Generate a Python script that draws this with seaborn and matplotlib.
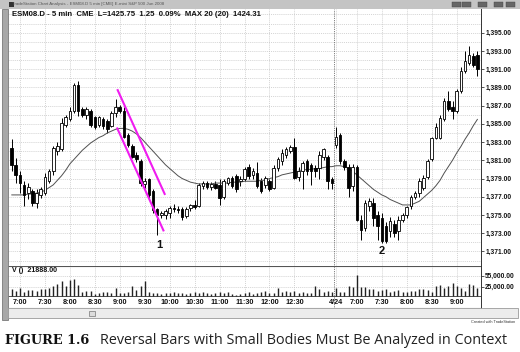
import numpy as np
import pandas as pd
import matplotlib
matplotlib.use("Agg")
import matplotlib.pyplot as plt
from matplotlib.patches import Rectangle
import seaborn as sns

# ---------------- data ----------------
day1_open = [1382.4,1380.5,1379.4,1378.3,1377.4,1377.6,1376.3,1377.2,1377.4,1378.7,
             1379.8,1382.0,1382.2,1384.9,1385.5,1386.4,1389.3,1386.6,1386.0,1386.4,
             1385.7,1384.9,1385.5,1385.3,1384.8,1386.2,1386.8,1386.4,1383.8,1382.6,
             1381.6,1380.9,1378.4,1378.9,1377.6,1375.6,1375.0,1375.0,1375.2,1375.8,
             1375.6,1375.6,1374.9,1375.8,1376.1,1376.0,1378.2,1378.5,1378.1,1378.4,
             1378.3,1377.0,1378.5,1379.1,1379.3,1378.7,1379.0,1380.3,1379.4,1379.6,
             1378.7,1378.3,1378.7,1378.0,1380.2,1380.9,1381.6,1382.0,1382.5,1379.2,
             1379.8,1380.9,1380.5,1380.2,1380.2,1381.4,1381.4,1378.9]
day1_high = [1383.3,1381.3,1379.8,1378.7,1378.5,1377.8,1377.8,1378.1,1379.6,1380.0,
             1382.6,1383.0,1385.6,1386.0,1386.8,1389.5,1389.7,1386.9,1386.8,1386.6,
             1385.9,1385.9,1385.7,1385.5,1386.4,1387.7,1387.1,1386.8,1384.0,1382.8,
             1381.9,1381.1,1379.1,1379.1,1377.8,1375.8,1375.4,1375.6,1376.0,1376.2,
             1376.0,1375.9,1375.9,1376.2,1376.6,1378.5,1378.7,1378.7,1378.6,1378.7,
             1378.9,1378.9,1379.2,1379.3,1379.5,1379.3,1380.3,1380.6,1380.2,1380.8,
             1379.1,1379.3,1379.0,1380.5,1381.4,1382.2,1382.5,1382.7,1383.5,1380.3,
             1380.9,1381.1,1380.7,1380.5,1382.0,1382.4,1381.6,1379.2]
day1_low = [1379.8,1378.5,1377.4,1376.0,1376.7,1376.0,1375.8,1376.9,1377.2,1378.5,
            1379.4,1381.6,1382.0,1384.6,1385.3,1386.2,1385.9,1385.7,1385.5,1384.6,
            1384.4,1384.6,1384.4,1384.0,1384.6,1385.8,1386.2,1383.5,1382.5,1381.2,
            1380.8,1378.2,1378.0,1376.9,1375.2,1372.8,1374.7,1374.6,1374.7,1375.3,
            1375.2,1374.5,1374.7,1375.4,1375.6,1375.9,1377.9,1377.9,1377.7,1377.8,
            1376.1,1376.8,1378.3,1378.0,1377.5,1378.2,1378.7,1379.0,1379.0,1378.0,
            1377.4,1378.0,1377.6,1377.8,1379.8,1380.5,1381.3,1381.8,1378.9,1378.7,
            1377.9,1379.4,1378.3,1379.2,1379.0,1381.0,1377.8,1377.8]
day1_close = [1380.5,1379.4,1378.5,1377.2,1378.1,1376.3,1377.4,1377.8,1379.2,1379.8,
              1382.4,1382.6,1385.1,1385.7,1386.4,1389.3,1386.4,1386.0,1386.6,1384.9,
              1384.7,1385.7,1384.8,1384.4,1386.2,1386.8,1386.4,1383.6,1382.7,1381.4,
              1381.1,1378.5,1378.7,1377.2,1375.5,1375.0,1375.2,1375.4,1375.8,1375.6,
              1375.5,1374.8,1375.7,1376.1,1375.9,1378.3,1378.5,1378.1,1378.4,1378.0,
              1376.9,1378.7,1379.1,1378.2,1377.8,1379.0,1380.0,1379.3,1379.8,1378.2,
              1377.6,1379.1,1377.8,1380.2,1381.1,1381.8,1382.2,1382.5,1379.1,1379.8,
              1380.7,1379.8,1379.8,1379.8,1381.6,1382.2,1378.7,1378.5]

day2_open = [1382.7,1383.8,1380.9,1380.3,1378.2,1380.3,1374.5,1373.6,1376.0,1376.3,
             1375.0,1374.7,1373.8,1373.2,1374.0,1373.2,1374.5,1375.0,1376.0,1377.0,
             1377.4,1378.0,1379.2,1381.1,1383.5,1383.5,1385.5,1387.5,1386.9,1386.4,
             1388.6,1390.8,1391.7,1392.4,1392.6]
day2_high = [1384.6,1384.0,1381.1,1380.6,1380.6,1380.5,1375.0,1376.6,1376.9,1376.9,
             1375.4,1375.2,1374.2,1374.8,1374.4,1374.9,1375.2,1376.0,1377.2,1377.6,
             1379.1,1379.4,1381.1,1383.6,1385.1,1386.0,1387.8,1388.6,1387.5,1388.8,
             1391.2,1393.0,1393.5,1392.8,1393.0]
day2_low = [1382.3,1380.6,1379.9,1377.0,1377.6,1374.3,1372.3,1373.2,1375.4,1373.8,
            1372.3,1371.9,1371.9,1372.6,1372.6,1372.3,1374.2,1374.7,1375.7,1376.8,
            1377.0,1377.7,1378.9,1380.9,1383.3,1383.3,1385.3,1386.4,1385.5,1386.2,
            1388.4,1390.6,1391.5,1391.2,1390.2]
day2_close = [1383.6,1380.9,1380.3,1378.0,1380.3,1374.5,1373.4,1376.3,1376.5,1374.7,
              1373.8,1372.1,1372.1,1374.3,1373.0,1374.5,1375.0,1375.9,1377.0,1377.4,
              1378.7,1379.1,1380.9,1383.5,1384.7,1385.6,1387.5,1386.6,1386.4,1388.6,
              1390.8,1391.9,1392.6,1391.5,1391.0]

ma20_day1 = [1377.2,1377.2,1377.2,1377.2,1377.3,1377.3,1377.4,1377.5,1377.7,1378.0,
             1378.3,1378.8,1379.3,1379.9,1380.6,1381.1,1381.6,1382.1,1382.5,1382.9,
             1383.2,1383.5,1383.7,1384.0,1384.2,1384.4,1384.5,1384.5,1384.4,1384.2,
             1383.9,1383.5,1383.0,1382.5,1382.0,1381.5,1381.0,1380.5,1380.1,1379.7,
             1379.3,1379.0,1378.8,1378.6,1378.5,1378.4,1378.4,1378.4,1378.4,1378.5,
             1378.5,1378.5,1378.5,1378.6,1378.6,1378.6,1378.7,1378.7,1378.7,1378.7,
             1378.8,1378.8,1379.0,1379.1,1379.2,1379.4,1379.5,1379.6,1379.7,1379.8,
             1379.9,1380.0,1380.0,1380.1,1380.1,1380.2,1380.3,1380.3]
ma20_day2 = [1380.4,1380.4,1380.3,1380.1,1379.8,1379.4,1379.0,1378.6,1378.2,1377.8,
             1377.5,1377.2,1377.0,1376.7,1376.5,1376.3,1376.1,1376.1,1376.1,1376.3,
             1376.5,1376.9,1377.3,1377.7,1378.2,1378.8,1379.6,1380.3,1381.0,1381.8,
             1382.5,1383.3,1384.0,1384.8,1385.5]

volume_day1 = [20000,14000,22000,12000,16000,17000,15000,19000,18000,21000,
               28000,33000,40000,26000,44000,46000,30000,12000,14000,15000,
               6000,9000,10000,12000,9000,22000,8000,9000,10000,26000,
               16000,28000,42000,10000,7000,9000,6000,8000,9000,10000,
               7000,8000,6000,9000,12000,8000,10000,7000,6000,9000,
               11000,8000,12000,5000,4000,6000,7000,10000,5000,8000,
               12000,15000,9000,8000,22000,10000,14000,11000,13000,9000,
               10000,7000,9000,27000,20000,12000,14000,11000]
volume_day2 = [22000,12000,10000,26000,24000,57000,25000,24000,18000,20000,
               14000,16000,18000,12000,14000,16000,10000,12000,15000,13000,
               18000,20000,17000,12000,26000,30000,22000,26000,36000,28000,
               22000,14000,33000,29000,21888]

tick_labels = ["7:00","7:30","8:00","8:30","9:00","9:30","10:00","10:30","11:00",
               "11:30","12:00","12:30","4/24","7:00","7:30","8:00","8:30","9:00"]
tick_bars = [2,8,14,20,26,32,38,44,50,56,62,68,78,83,89,95,101,107]
price_ticks = [1395,1393,1391,1389,1387,1385,1383,1381,1379,1377,1375,1373,1371]
volume_ticks = [55000,25000]

channel_upper = [(25.4,1388.8),(36.9,1377.2)]
channel_lower = [(25.3,1384.6),(36.6,1373.2)]
swing_labels = [("1",35.4,1371.7),("2",89.0,1371.0)]

header_text = "ESM08.D - 5 min  CME  L=1425.75  1.25  0.09%  MAX 20 (20)  1424.31"
window_title = "TradeStation Chart Analysis - ESM08.D 5 min [CME] E-mini S&P 500 Jun 2008"
caption_label = "FIGURE 1.6"
caption_text = "Reversal Bars with Small Bodies Must Be Analyzed in Context"

# -------------- build frame --------------
df = pd.DataFrame({
    "open": day1_open + day2_open,
    "high": day1_high + day2_high,
    "low": day1_low + day2_low,
    "close": day1_close + day2_close,
    "ma": ma20_day1 + ma20_day2,
    "volume": volume_day1 + volume_day2,
})
df["idx"] = np.arange(len(df))
day_break = len(day1_open)

sns.set_theme(style="white")
plt.rcParams["font.family"] = ["Liberation Sans", "DejaVu Sans"]

W, H = 520, 352
fig = plt.figure(figsize=(W/100, H/100), dpi=100)
fig.patch.set_facecolor("white")

def rect(x0, y0, x1, y1):
    return [x0/W, 1 - y1/H, (x1-x0)/W, (y1-y0)/H]

def fx(x): return x/W
def fy(y): return 1 - y/H

# window chrome
fig.add_artist(Rectangle((0, fy(9)), 1, 9/H, transform=fig.transFigure,
                         facecolor="#c4c4c4", edgecolor="none"))
fig.text(fx(12), fy(4.5), window_title, fontsize=3.2, color="#555555", va="center")
fig.add_artist(Rectangle((fx(9), fy(6.5)), 5/W, 5/H, transform=fig.transFigure,
                         facecolor="#333333", edgecolor="none"))
for bx in [452, 462, 478, 494, 506]:
    fig.add_artist(Rectangle((fx(bx), fy(7)), 9/W, 5/H, transform=fig.transFigure,
                             facecolor="#666666", edgecolor="#444444", lw=0.3))
fig.add_artist(Rectangle((fx(2), fy(320)), 6/W, 311/H, transform=fig.transFigure,
                         facecolor="#a8a8a8", edgecolor="#7a7a7a", lw=0.6))
# scroll bar region
fig.add_artist(Rectangle((fx(8), fy(318)), 510/W, 10/H, transform=fig.transFigure,
                         facecolor="#ececec", edgecolor="#9a9a9a", lw=0.6))
fig.add_artist(Rectangle((fx(89), fy(316)), 6/W, 5/H, transform=fig.transFigure,
                         facecolor="#dcdcdc", edgecolor="#777777", lw=0.5))
fig.text(fx(515), fy(322), "Created with TradeStation", fontsize=2.8, color="#333333",
         ha="right", va="center")

# -------------- price panel --------------
xmin, xmax = -0.87, 112.85
ax = fig.add_axes(rect(8, 9, 481, 266))
ax.set_xlim(xmin, xmax)
ax.set_ylim(1369.4, 1397.6)
ax.set_facecolor("white")

for p in np.arange(1370, 1398, 1):
    ax.axhline(p, color="#c4c4c4", lw=0.5, ls=(0, (1.5, 1.5)), zorder=0)
for t in tick_bars:
    ax.axvline(t, color="#c4c4c4", lw=0.5, ls=(0, (1.5, 1.5)), zorder=0)
ax.axvline(day_break - 0.5, color="#555555", lw=0.6, ls=(0, (1, 1.2)), zorder=1)

ax.vlines(df["idx"], df["low"], df["high"], color="black", lw=0.7, zorder=2)
up = df["close"] >= df["open"]
body_h = (df["close"] - df["open"]).abs().clip(lower=0.08)
body_b = df[["open", "close"]].min(axis=1)
ax.bar(df["idx"][up], body_h[up], bottom=body_b[up], width=0.62,
       color="white", edgecolor="black", lw=0.6, zorder=3)
ax.bar(df["idx"][~up], body_h[~up], bottom=body_b[~up], width=0.62,
       color="black", edgecolor="black", lw=0.6, zorder=3)

sns.lineplot(x=df["idx"], y=df["ma"], ax=ax, color="#505050", lw=0.7, zorder=2)

for line in (channel_upper, channel_lower):
    xs = [pt[0] for pt in line]; ys = [pt[1] for pt in line]
    ax.plot(xs, ys, color="#f01cf0", lw=1.5, solid_capstyle="butt", zorder=4)

for lab, xi, yi in swing_labels:
    ax.text(xi, yi, lab, fontsize=8, fontweight="bold", ha="center", va="center",
            color="#111111", zorder=5)

ax.text(0.0, 1397.0, header_text, fontsize=5.6, fontweight="bold", va="center",
        ha="left", color="#111111")

ax.yaxis.tick_right()
ax.set_yticks(price_ticks)
ax.set_yticklabels([f"{v:,.2f}" for v in price_ticks], fontsize=4.8, fontweight="bold")
ax.tick_params(axis="y", which="both", right=True, length=2, width=0.5, pad=1,
               colors="#111111")
ax.set_xticks([])
ax.set_xlabel(""); ax.set_ylabel("")
for s in ["top", "left", "bottom"]:
    ax.spines[s].set_visible(False)
ax.spines["right"].set_color("#333333"); ax.spines["right"].set_linewidth(0.7)

# -------------- volume panel --------------
vax = fig.add_axes(rect(8, 266, 481, 308))
vax.set_xlim(xmin, xmax)
px_per_vol = 11/30000
vmin = -(308-296)/px_per_vol
vmax = (296-266)/px_per_vol
vax.set_ylim(vmin, vmax)
for v in volume_ticks:
    vax.axhline(v, color="#c4c4c4", lw=0.5, ls=(0, (1.5, 1.5)), zorder=0)
for t in tick_bars:
    vax.plot([t, t], [0, vmax], color="#c4c4c4", lw=0.5, ls=(0, (1.5, 1.5)), zorder=0)
vax.plot([day_break-0.5, day_break-0.5], [vmin, vmax], color="#555555", lw=0.6,
         ls=(0, (1, 1.2)), zorder=1)
vax.axhline(0, color="#333333", lw=0.6, zorder=1)
vax.vlines(df["idx"], 0, df["volume"], color="#222222", lw=1.0, zorder=2)
vax.axhline(vmax, color="#555555", lw=0.8)
vax.text(0.0, vmax - 5/px_per_vol, "V ()  21888.00", fontsize=5, fontweight="bold",
         va="center", ha="left", color="#111111")
vax.axhline(vmin, color="#9a9a9a", lw=0.8)

vax.yaxis.tick_right()
vax.set_yticks(volume_ticks)
vax.set_yticklabels([f"{v:,.2f}" for v in volume_ticks], fontsize=4.8, fontweight="bold")
vax.tick_params(axis="y", right=True, length=2, width=0.5, pad=1, colors="#111111")
for t, lab in zip(tick_bars, tick_labels):
    vax.text(t, vmin + 5/px_per_vol, lab, fontsize=5.2, fontweight="bold",
             ha="center", va="center", color="#111111")
vax.set_xticks([])
vax.set_xlabel(""); vax.set_ylabel("")
for s in ["top", "left", "bottom"]:
    vax.spines[s].set_visible(False)
vax.spines["right"].set_color("#333333"); vax.spines["right"].set_linewidth(0.7)

# -------------- caption --------------
fig.text(fx(5), fy(340), caption_label, fontsize=9.3, fontweight="bold",
         family=["DejaVu Serif"], va="center", ha="left", color="#111111")
fig.text(fx(100), fy(340), caption_text, fontsize=10.4, family=["Open Sans", "DejaVu Sans"],
         va="center", ha="left", color="#222222")

fig.savefig("out.png", dpi=100, facecolor="white")
